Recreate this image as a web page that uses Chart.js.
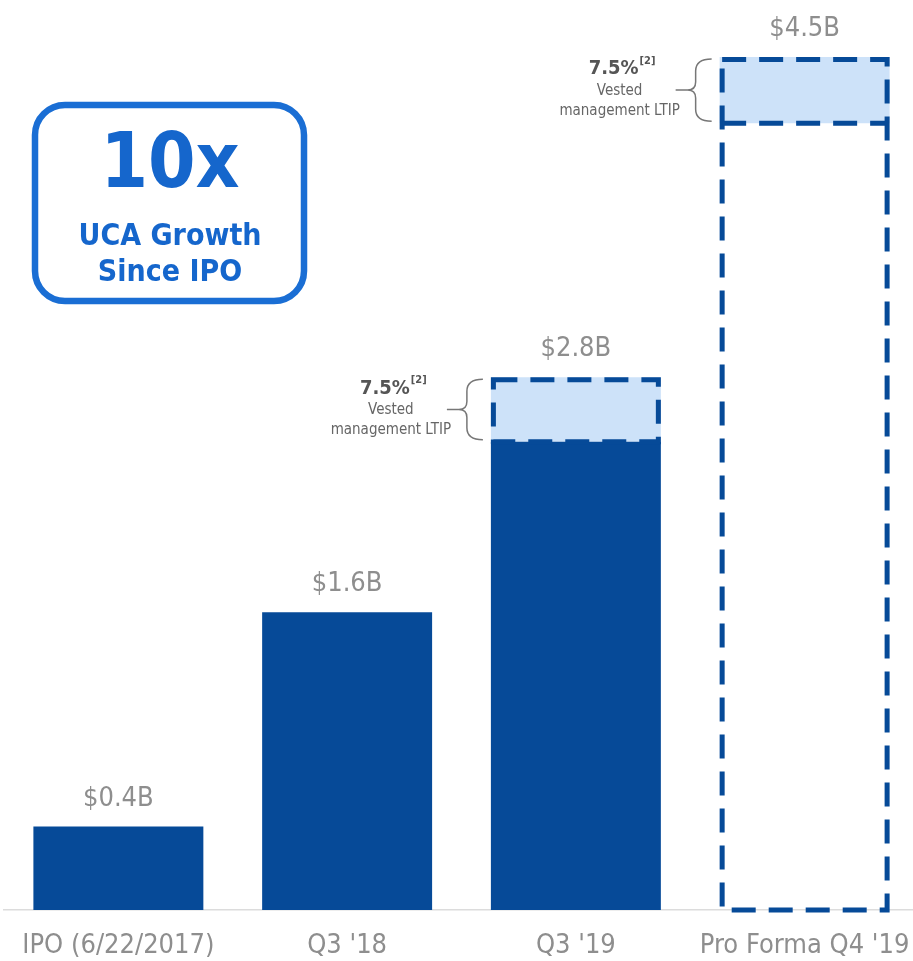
<!DOCTYPE html>
<html>
<head>
<meta charset="utf-8">
<script src="https://cdn.jsdelivr.net/npm/chart.js@4/dist/chart.umd.min.js"></script>
<style>
  html, body { margin: 0; padding: 0; background: #fff; }
  #wrap { width: 913px; height: 961px; position: relative; }
</style>
</head>
<body>
<div id="wrap"><canvas id="c1"></canvas></div>
<script>
var categories = ['IPO (6/22/2017)', "Q3 '18", "Q3 '19", "Pro Forma Q4 '19"];
var baseValues = [0.44, 1.57, 2.47, 4.15];   // $B, solid / pro forma part
var ltipValues = [0, 0, 0.34, 0.35];         // $B, vested management LTIP
var valueLabels = ['$0.4B', '$1.6B', '$2.8B', '$4.5B'];
var ltipPct = [null, null, '7.5%', '7.5%'];
var dashedBars = [false, false, false, true];

var DARK = '#064a98';
var LIGHT = '#cde2f9';
var GREY = '#8e8e8e';
var FONT = "'DejaVu Sans Condensed', 'Liberation Sans Narrow', 'Roboto', sans-serif";

// the original slide lets the last category run a little past the right edge
var widenX = {
    id: 'widenX',
    afterLayout: function(chart) {
        var s = chart.scales.x;
        s.right = s.right + 6;
        s.configure();
    }
};

var drawExtras = {
    id: 'drawExtras',
    afterDatasetsDraw: function(chart) {
        var ctx = chart.ctx;
        var baseMeta = chart.getDatasetMeta(0);
        var ltipMeta = chart.getDatasetMeta(1);
        ctx.save();

        categories.forEach(function(cat, i) {
            var b = baseMeta.data[i];
            var l = ltipMeta.data[i];
            var left = b.x - b.width / 2, right = b.x + b.width / 2;
            var top = ltipValues[i] > 0 ? l.y : b.y;
            var lw = 5;

            ctx.strokeStyle = DARK;
            ctx.lineWidth = lw;
            ctx.setLineDash([24, 13]);
            if (dashedBars[i]) {
                ctx.strokeRect(left + lw / 2, top + lw / 2, b.width - lw, b.base - top - lw / 2);
                ctx.beginPath();
                ctx.moveTo(left + lw / 2, b.y);
                ctx.lineTo(right - lw / 2, b.y);
                ctx.stroke();
            } else if (ltipValues[i] > 0) {
                ctx.strokeRect(left + lw / 2, l.y + lw / 2, b.width - lw, l.base - l.y - lw / 2);
            }
            ctx.setLineDash([]);

            // value label
            ctx.fillStyle = GREY;
            ctx.font = '27px ' + FONT;
            ctx.textAlign = 'center';
            ctx.textBaseline = 'middle';
            ctx.fillText(valueLabels[i], b.x, top - 28);

            // LTIP note with brace
            if (ltipPct[i]) {
                var segTop = l.y, segBot = l.base, mid = (segTop + segBot) / 2;
                var bx = left - 8;
                var tx = left - 100;
                ctx.strokeStyle = '#777';
                ctx.lineWidth = 1.5;
                ctx.beginPath();
                ctx.moveTo(bx, segTop + 2);
                ctx.quadraticCurveTo(bx - 16, segTop + 2, bx - 16, segTop + 14);
                ctx.lineTo(bx - 16, mid - 8);
                ctx.quadraticCurveTo(bx - 16, mid, bx - 24, mid);
                ctx.quadraticCurveTo(bx - 16, mid, bx - 16, mid + 8);
                ctx.lineTo(bx - 16, segBot - 14);
                ctx.quadraticCurveTo(bx - 16, segBot - 2, bx, segBot - 2);
                ctx.moveTo(bx - 24, mid);
                ctx.lineTo(bx - 36, mid);
                ctx.stroke();

                ctx.fillStyle = '#555';
                ctx.font = 'bold 20px ' + FONT;
                ctx.textAlign = 'center';
                var w = ctx.measureText(ltipPct[i]).width;
                ctx.fillText(ltipPct[i], tx - 6, mid - 21);
                ctx.font = 'bold 11px ' + FONT;
                ctx.textAlign = 'left';
                ctx.fillText('[2]', tx - 6 + w / 2 + 1, mid - 29);
                ctx.fillStyle = '#666';
                ctx.font = '15px ' + FONT;
                ctx.textAlign = 'center';
                ctx.fillText('Vested', tx, mid + 1);
                ctx.fillText('management LTIP', tx, mid + 21);
            }
        });

        // "10x" callout box
        ctx.strokeStyle = '#1a6ed4';
        ctx.lineWidth = 6.5;
        ctx.beginPath();
        ctx.roundRect(35, 105, 269, 196, 30);
        ctx.stroke();
        ctx.fillStyle = '#1566cc';
        ctx.textAlign = 'center';
        ctx.textBaseline = 'middle';
        ctx.font = 'bold 76px ' + FONT;
        ctx.fillText('10x', 170, 167);
        ctx.font = 'bold 30px ' + FONT;
        ctx.fillText('UCA Growth', 170, 237);
        ctx.fillText('Since IPO', 170, 273);
        ctx.restore();
    }
};

var data = {
    labels: categories,
    datasets: [
        {
            label: 'UCA',
            data: baseValues,
            backgroundColor: dashedBars.map((d) => d ? 'rgba(255,255,255,0)' : DARK),
            borderWidth: 0
        },
        {
            label: 'Vested management LTIP',
            data: ltipValues,
            backgroundColor: LIGHT,
            borderWidth: 0
        }
    ]
};

var options = {
    responsive: true,
    maintainAspectRatio: false,
    animation: false,
    layout: { padding: { left: 4, right: 0, top: 0, bottom: 0 } },
    categoryPercentage: 1,
    barPercentage: 0.743,
    plugins: {
        legend: { display: false },
        tooltip: { enabled: false }
    },
    scales: {
        x: {
            stacked: true,
            grid: { display: false, drawTicks: false },
            border: { display: true, color: '#dcdcdc', width: 1.5 },
            ticks: {
                color: GREY,
                padding: 20,
                font: { family: FONT, size: 27, lineHeight: 1.2 }
            },
            afterFit: function(scale) {
                scale.height = 51;
                scale.paddingLeft = 0;
                scale.paddingRight = 0;
            }
        },
        y: {
            stacked: true,
            display: false,
            min: 0,
            max: 4.8
        }
    }
};

var ctx = document.getElementById('c1').getContext('2d');
var chart = new Chart(ctx, {
    type: 'bar',
    data: data,
    options: options,
    plugins: [widenX, drawExtras]
});
</script>
</body>
</html>
